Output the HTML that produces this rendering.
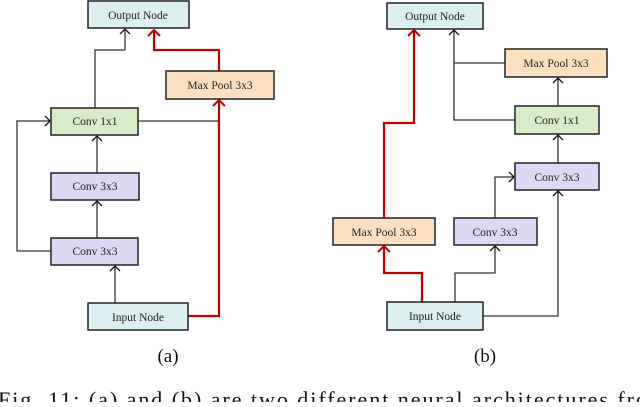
<!DOCTYPE html>
<html><head><style>
body{margin:0;width:640px;height:402px;overflow:hidden;background:#fff;font-family:"Liberation Serif",serif}
</style></head><body>
<svg width="640" height="402" xmlns="http://www.w3.org/2000/svg" font-family="Liberation Serif, serif">
<defs>
<marker id="a" markerWidth="12" markerHeight="10" refX="6" refY="1" orient="0" markerUnits="userSpaceOnUse"><path d="M1,6 L6,1 L11,6" fill="none" stroke="#111" stroke-width="1.3"/></marker>
<marker id="r" markerWidth="14" markerHeight="10" refX="7" refY="1" orient="0" markerUnits="userSpaceOnUse"><path d="M1,7 L7,1 L13,7" fill="none" stroke="#c00000" stroke-width="2"/></marker>
<marker id="ar" markerWidth="10" markerHeight="12" refX="9" refY="6" orient="0" markerUnits="userSpaceOnUse"><path d="M4,1 L9,6 L4,11" fill="none" stroke="#111" stroke-width="1.3"/></marker>
</defs>
<g fill="none" stroke="#333" stroke-width="1.3">
<polyline points="95,108 95,50 125,50 125,29" marker-end="url(#a)"/>
<polyline points="138,121 219,121"/>
<polyline points="51,251 17,251 17,121 50,121" marker-end="url(#ar)"/>
<polyline points="97,173 97,136" marker-end="url(#a)"/>
<polyline points="97,238 97,201" marker-end="url(#a)"/>
<polyline points="115,303 115,266" marker-end="url(#a)"/>
<polyline points="515,120 454,120 454,30" marker-end="url(#a)"/>
<polyline points="505,63 454,63"/>
<polyline points="558,106 558,78" marker-end="url(#a)"/>
<polyline points="558,163 558,135" marker-end="url(#a)"/>
<polyline points="455,302 455,273 495,273 495,246" marker-end="url(#a)"/>
<polyline points="495,218 495,177 514,177" marker-end="url(#ar)"/>
<polyline points="483,316 558,316 558,191" marker-end="url(#a)"/>
</g>
<g fill="none" stroke="#c00000" stroke-width="2.2">
<polyline points="219,71 219,50 154,50 154,30" marker-end="url(#r)"/>
<polyline points="188,316 219,316 219,100" marker-end="url(#r)"/>
<polyline points="422,302 422,273 384,273 384,246" marker-end="url(#r)"/>
<polyline points="384,218 384,123 414,123 414,30" marker-end="url(#r)"/>
</g>
<g stroke="#222" stroke-width="1.5" fill="#222">
<rect x="88" y="1" width="101" height="27" fill="#dbeef0"/>
<rect x="166" y="71" width="108" height="28" fill="#fde0c0"/>
<rect x="51" y="108" width="87" height="27" fill="#d8ecc8"/>
<rect x="51" y="173" width="88" height="27" fill="#dcd8f6"/>
<rect x="51" y="238" width="87" height="27" fill="#dcd8f6"/>
<rect x="88" y="303" width="100" height="27" fill="#dbeef0"/>
<rect x="387" y="3" width="96" height="26" fill="#dbeef0"/>
<rect x="505" y="49" width="102" height="28" fill="#fde0c0"/>
<rect x="515" y="106" width="84" height="28" fill="#d8ecc8"/>
<rect x="515" y="163" width="84" height="27" fill="#dcd8f6"/>
<rect x="333" y="218" width="102" height="27" fill="#fde0c0"/>
<rect x="454" y="218" width="83" height="27" fill="#dcd8f6"/>
<rect x="387" y="302" width="96" height="28" fill="#dbeef0"/>
</g>
<g font-size="11.5" text-anchor="middle" fill="#222">
<text x="138" y="19">Output Node</text>
<text x="220" y="89">Max Pool 3x3</text>
<text x="95" y="125">Conv 1x1</text>
<text x="95" y="190">Conv 3x3</text>
<text x="95" y="255">Conv 3x3</text>
<text x="138" y="321">Input Node</text>
<text x="435" y="20">Output Node</text>
<text x="556" y="67">Max Pool 3x3</text>
<text x="557" y="124">Conv 1x1</text>
<text x="557" y="181">Conv 3x3</text>
<text x="384" y="236">Max Pool 3x3</text>
<text x="495" y="236">Conv 3x3</text>
<text x="435" y="320">Input Node</text>
</g>
<g font-size="19" text-anchor="middle" fill="#111">
<text x="168" y="362">(a)</text>
<text x="485" y="362">(b)</text>
</g>
<text x="-2" y="407" font-size="22" fill="#111" textLength="668" lengthAdjust="spacing">Fig. 11: (a) and (b) are two different neural architectures from</text>
</svg>
</body></html>
